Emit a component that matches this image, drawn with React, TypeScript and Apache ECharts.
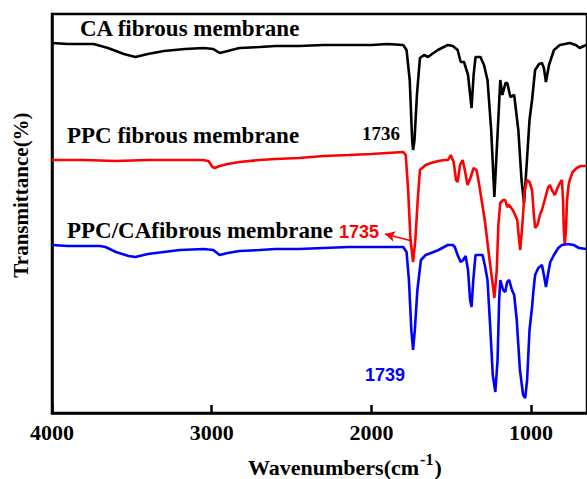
import React, { useEffect, useRef } from "react";
import * as echarts from "echarts";

// Wavenumbers (cm-1) and transmittance readings (arbitrary units, offset per trace)
const caWavenumbers = [4000,3900,3800,3739,3650,3550,3478,3400,3300,3168,3050,2990,2950,2900,2826,2700,2600,2453,2300,2143,2000,1900,1801,1780,1760,1745,1739,1730,1715,1696,1670,1646,1620,1584,1522,1490,1460,1441,1420,1395,1373,1360,1348,1317,1295,1273,1250,1230,1215,1193,1180,1160,1149,1130,1106,1080,1060,1044,1030,1010,994,975,950,932,920,907,888,857,820,758,720,696,655];
const caValues = [370,369,369,369,365,359,356,359,362,364,365,364,360,362,365,366,367,367,368,368,368,369,368,363,333,273,263,273,318,355,358,356,359,363,368,367,363,351,351,338,305,338,356,356,348,333,283,216,263,333,318,330,330,316,318,283,233,210,243,293,313,343,349,350,345,331,348,363,368,370,368,365,368];

const ppcWavenumbers = [4000,3800,3600,3400,3200,3056,3020,2995,2981,2950,2900,2826,2700,2600,2453,2300,2143,2000,1900,1801,1785,1770,1755,1739,1725,1710,1696,1660,1627,1580,1540,1520,1503,1485,1470,1460,1445,1429,1415,1398,1380,1360,1342,1330,1317,1290,1260,1240,1230,1215,1205,1193,1175,1162,1150,1137,1115,1100,1087,1075,1068,1055,1040,1025,1010,994,985,975,960,945,932,915,895,882,870,851,835,820,807,800,795,789,782,775,765,758,740,714,690,655];
const ppcValues = [253,253,252,253,253,253,252,246,245,247,249,251,253,254,255,257,258,259,260,261,258,223,173,151,173,213,243,248,250,252,253,253,258,251,233,231,248,253,243,228,235,245,243,233,220,193,153,128,115,143,188,210,213,213,206,208,203,198,193,173,163,188,223,233,231,223,203,185,188,198,203,213,225,228,223,218,225,230,233,213,183,168,183,213,228,233,241,245,247,247];

const blendWavenumbers = [4000,3900,3800,3700,3665,3600,3520,3478,3400,3300,3199,3050,2990,2950,2900,2826,2700,2600,2453,2300,2143,2000,1900,1801,1780,1765,1750,1739,1728,1712,1690,1660,1627,1580,1522,1490,1478,1460,1441,1425,1410,1395,1382,1373,1362,1348,1330,1304,1290,1273,1255,1240,1224,1210,1200,1193,1175,1162,1150,1137,1120,1106,1090,1070,1050,1037,1025,1010,994,985,975,955,932,920,907,895,880,857,830,807,770,733,700,655];
const blendValues = [168,167,167,167,166,161,157,156,159,161,163,164,163,158,160,162,163,164,164,165,166,166,166,166,161,133,83,63,83,123,153,158,160,163,168,168,166,158,151,153,157,143,113,106,133,158,158,158,148,133,83,38,21,53,113,133,123,121,131,133,123,118,93,43,18,15,33,83,106,123,138,145,148,138,126,138,151,158,165,168,169,168,165,164];

const seriesNames = ["CA fibrous membrane", "PPC fibrous membrane", "PPC/CAfibrous membrane"];
const tickValues = [4000, 3000, 2000, 1000];
const peakLabels = ["1736", "1735", "1739"];
const xTitleParts = ["Wavenumbers(cm", "-1", ")"];

const zip = (xs: number[], ys: number[]) => xs.map((x, i) => [x, ys[i]]);

const SERIF = '"Liberation Serif", "Times New Roman", serif';
const SANS = '"Liberation Sans", Arial, sans-serif';

function measure(text: string, font: string): number {
  const ctx = document.createElement("canvas").getContext("2d");
  if (!ctx) return text.length * 10;
  ctx.font = font;
  return ctx.measureText(text).width;
}

export default function App() {
  const ref = useRef<HTMLDivElement>(null);
  useEffect(() => {
    if (!ref.current) return;
    const chart = echarts.init(ref.current, undefined, { renderer: "svg" });
    const lineW = 2.6;
    const mainFont = `bold 22px ${SERIF}`;
    const supFont = `bold 16px ${SERIF}`;
    const titleX = 248;
    const w1 = measure(xTitleParts[0], mainFont);
    const w2 = measure(xTitleParts[1], supFont);
    chart.setOption({
      animation: false,
      backgroundColor: "#fff",
      grid: {
        left: 52,
        right: -3,
        top: 14,
        bottom: 66,
        show: true,
        borderColor: "#000",
        borderWidth: 2.5,
      },
      xAxis: {
        type: "value",
        min: 650,
        max: 4000,
        inverse: true,
        axisLine: { show: true, lineStyle: { color: "#000", width: 2.5 } },
        axisTick: {
          show: true,
          inside: true,
          length: 8,
          customValues: tickValues,
          lineStyle: { color: "#000", width: 2.5 },
        },
        axisLabel: {
          customValues: tickValues,
          formatter: (v: number) => String(v),
          fontFamily: SERIF,
          fontWeight: "bold",
          fontSize: 22,
          color: "#000",
          margin: 8,
        },
        splitLine: { show: false },
      },
      yAxis: {
        type: "value",
        min: 0,
        max: 399,
        axisLine: { show: true, lineStyle: { color: "#000", width: 2.5 } },
        axisTick: { show: false },
        axisLabel: { show: false },
        splitLine: { show: false },
      },
      series: [
        {
          name: seriesNames[0],
          type: "line",
          data: zip(caWavenumbers, caValues),
          showSymbol: false,
          lineStyle: { color: "#000", width: lineW },
          itemStyle: { color: "#000" },
        },
        {
          name: seriesNames[1],
          type: "line",
          data: zip(ppcWavenumbers, ppcValues),
          showSymbol: false,
          lineStyle: { color: "#ff0000", width: lineW },
          itemStyle: { color: "#ff0000" },
          markLine: {
            silent: true,
            symbol: ["none", "arrow"],
            symbolSize: [8, 10],
            label: { show: false },
            lineStyle: { color: "#ff0000", width: 1.8, type: "solid" },
            data: [[{ coord: [1745, 172] }, { coord: [1915, 179] }]],
          },
        },
        {
          name: seriesNames[2],
          type: "line",
          data: zip(blendWavenumbers, blendValues),
          showSymbol: false,
          lineStyle: { color: "#0000ff", width: lineW },
          itemStyle: { color: "#0000ff" },
        },
      ],
      graphic: [
        {
          type: "text", x: 80, y: 28,
          style: { text: seriesNames[0], font: `bold 23px ${SERIF}`, fill: "#000", textAlign: "left", textVerticalAlign: "middle" },
        },
        {
          type: "text", x: 67, y: 135,
          style: { text: seriesNames[1], font: `bold 23px ${SERIF}`, fill: "#000", textAlign: "left", textVerticalAlign: "middle" },
        },
        {
          type: "text", x: 67, y: 230,
          style: { text: seriesNames[2], font: `bold 23px ${SERIF}`, fill: "#000", textAlign: "left", textVerticalAlign: "middle" },
        },
        {
          type: "text", x: 362, y: 133,
          style: { text: peakLabels[0], font: `bold 19px ${SERIF}`, fill: "#000", textAlign: "left", textVerticalAlign: "middle" },
        },
        {
          type: "text", x: 339, y: 232,
          style: { text: peakLabels[1], font: `bold 18px ${SANS}`, fill: "#ff0000", textAlign: "left", textVerticalAlign: "middle" },
        },
        {
          type: "text", x: 365, y: 375,
          style: { text: peakLabels[2], font: `bold 18px ${SANS}`, fill: "#0000ff", textAlign: "left", textVerticalAlign: "middle" },
        },
        {
          type: "text", x: 21, y: 195, rotation: Math.PI / 2,
          style: { text: "Transmittance(%)", font: `bold 21px ${SERIF}`, fill: "#000", textAlign: "center", textVerticalAlign: "middle" },
        },
        {
          type: "text", x: titleX, y: 467,
          style: { text: xTitleParts[0], font: mainFont, fill: "#000", textAlign: "left", textVerticalAlign: "middle" },
        },
        {
          type: "text", x: titleX + w1 + 1, y: 459,
          style: { text: xTitleParts[1], font: supFont, fill: "#000", textAlign: "left", textVerticalAlign: "middle" },
        },
        {
          type: "text", x: titleX + w1 + 2 + w2, y: 467,
          style: { text: xTitleParts[2], font: mainFont, fill: "#000", textAlign: "left", textVerticalAlign: "middle" },
        },
      ],
    });
    return () => chart.dispose();
  }, []);
  return <div ref={ref} style={{ width: 587, height: 479, position: "absolute", left: 0, top: 0 }} />;
}
